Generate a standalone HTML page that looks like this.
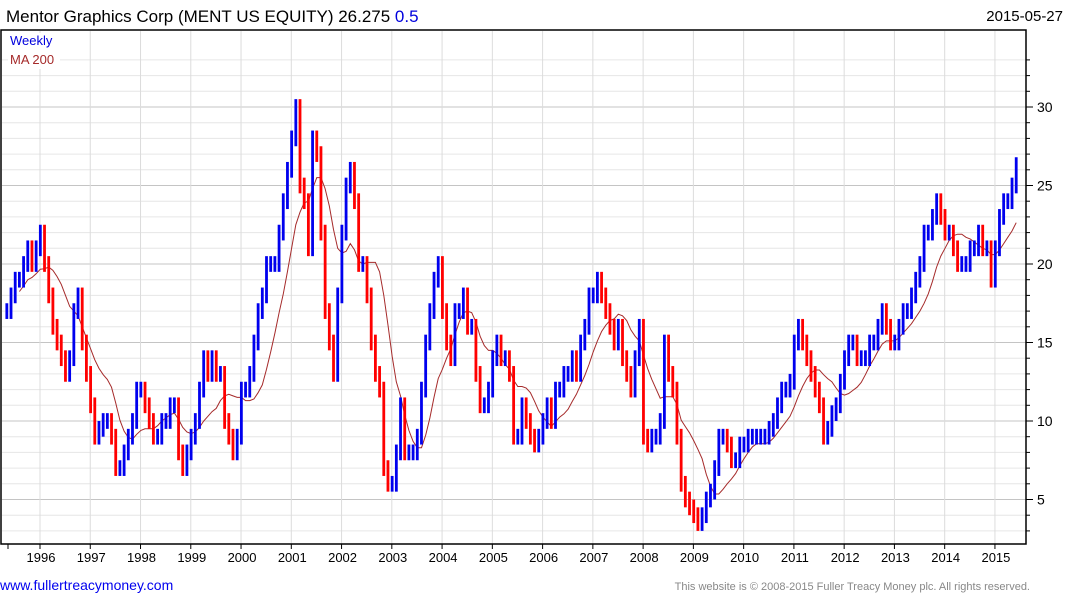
<!DOCTYPE html>
<html><head><meta charset="utf-8">
<style>
body{margin:0;background:#fff;width:1075px;height:600px;overflow:hidden;font-family:"Liberation Sans",Arial,sans-serif;}
svg text{font-family:"Liberation Sans",Arial,sans-serif;}
</style></head>
<body>
<svg id="chart" width="1075" height="600">
<text x="6" y="22" font-size="17" fill="#000">Mentor Graphics Corp (MENT US EQUITY) 26.275 <tspan fill="#0000dd">0.5</tspan></text>
<text x="1063" y="21" font-size="15" text-anchor="end" fill="#000">2015-05-27</text>
<g id="grid"></g>
<g id="ma"></g>
<g id="bars"></g>
<rect x="1" y="30" width="1025" height="514" fill="none" stroke="#000" stroke-width="1.5"/>
<g id="axes"></g>
<rect x="8" y="33" width="52" height="36" fill="#fff"/>
<text x="10" y="45" font-size="13" fill="#0000dd">Weekly</text>
<text x="10" y="64" font-size="13" fill="#a52a2a">MA 200</text>
<text x="0" y="590" font-size="14" fill="#0000ee">www.fullertreacymoney.com</text>
<text x="1030" y="590" font-size="11" text-anchor="end" fill="#888">This website is © 2008-2015 Fuller Treacy Money plc. All rights reserved.</text>
</svg>
<script>
const startYear = 1995.34;
const closes = [
17,18,19,19,20,21,20,21,
22,20,18,16,15,14,13,14,17,18,15,13,
11,9,9.5,10,10,9,7,7,8,9,10,12,
12,11,10,9,9,10,10,11,11,8,7,8,
9,10,12,14,13,14,13,13,10,9,8,9,
12,12,13,15,17,18,20,20,20,22,24,26,
28,30,25,24,21,28,27,22,17,15,13,18,
22,25,26,24,20,20,18,15,13,12,7,6,
6,8,11,8,8,8,9,12,15,17,19,20,
17,15,14,17,17,18,16,16,13,11,11,12,
14,15,14,14,13,9,9,11,10,9,8.5,9,
10,11,10,12,12,13,13,14,13,15,16,18,
18,19,18,17,16,15,16,14,13,12,14,16,
9,8.5,9,9,10,15,13,12,9,6,5,4.5,
4,3.5,4,5,5.5,7,9,9,8.5,7.5,7.5,8.5,
8.5,9,9,9,9,9,9.5,10,11,12,12,12.5,
15,16,15,14,13,12,11,9,9.5,10.5,11,12.5,
14,15,15,14,14,14,15,15,16,17,16,15,
15,16,17,17,18,19,20,22,22,23,24,23,
22,22,21,20,20,20,21,21,22,21,21,19,
21,23,24,24,25,26.3];
const yearLabels = [1996,1997,1998,1999,2000,2001,2002,2003,2004,2005,2006,2007,2008,2009,2010,2011,2012,2013,2014,2015];
const priceTicks = [5,10,15,20,25,30];
const maWindow = 10;

const NS="http://www.w3.org/2000/svg";
function xS(t){return 40+(t-1996)*50.26;}
function yS(v){return 107+(30-v)*15.7;}
function mk(tag,attrs,parent){const e=document.createElementNS(NS,tag);for(const k in attrs)e.setAttribute(k,attrs[k]);parent.appendChild(e);return e;}
const grid=document.getElementById('grid'),axes=document.getElementById('axes'),bars=document.getElementById('bars'),ma=document.getElementById('ma');
for(let v=3;v<=33;v++){
  const l=mk('line',{x1:2,x2:1026,y1:yS(v),y2:yS(v),stroke:v%5===0?'#c4c4c4':'#e6e6e6','stroke-width':1},grid);
  
  
  const t=mk('line',{x1:1026,x2:v%5===0?1033:1030,y1:yS(v),y2:yS(v),stroke:'#000'},axes);
  
  
}
priceTicks.forEach(v=>{
  const t=mk('text',{x:1037,y:yS(v)+5,'font-size':14,fill:'#000'},axes);t.textContent=v;
  
  
});
yearLabels.forEach(y=>{
  const x=xS(y);
  const l=mk('line',{x1:x,x2:x,y1:31,y2:544,stroke:'#dcdcdc'},grid);
  
  
  const t=mk('text',{x:x+1,y:562,'font-size':13,'text-anchor':'middle',fill:'#000'},axes);t.textContent=y;
  
  
  const tk=mk('line',{x1:x,x2:x,y1:544,y2:549,stroke:'#000'},axes);
  
  
});
const tk0=mk('line',{x1:8,x2:8,y1:544,y2:549,stroke:'#000'},axes);


for(let i=0;i<closes.length;i++){
  const prev=i>0?closes[i-1]:closes[i];
  const c=closes[i];
  const x=xS(startYear+i/12);
  const hi=Math.max(prev,c)+0.5, lo=Math.min(prev,c)-0.5;
  const r=mk('rect',{x:x-1.4,y:yS(hi),width:2.8,height:yS(lo)-yS(hi),fill:c>=prev?'#0000ee':'#ff0000'},bars);
  
  
}
let pts=[];
for(let i=0;i<closes.length;i++){
  const s=closes.slice(Math.max(0,i-maWindow+1),i+1);
  const m=s.reduce((a,b)=>a+b,0)/s.length;
  if(i>=3)pts.push(xS(startYear+i/12).toFixed(1)+','+yS(m).toFixed(1));
}
const p=mk('polyline',{points:pts.join(' '),fill:'none',stroke:'#a52a2a','stroke-width':1},ma);


</script>
</body></html>
